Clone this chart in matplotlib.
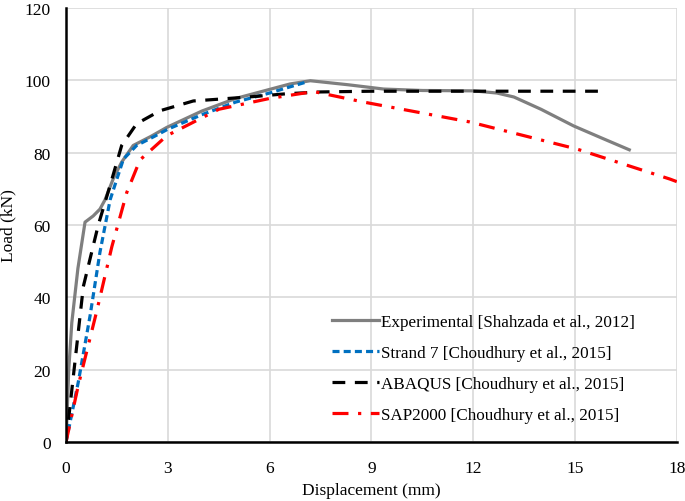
import matplotlib
matplotlib.use("Agg")
from matplotlib import pyplot as plt

plt.rcParams['font.family'] = ['Liberation Serif', 'DejaVu Serif']

# data
exp_x = [0, 0.08, 0.17, 0.35, 0.56, 0.8, 1.0, 1.15, 1.4, 1.64, 1.98, 2.5, 2.97, 4.0, 5.0, 6.0, 6.6, 7.2, 8.3, 9.36, 10.5, 12.0, 12.7, 13.2, 14.0, 14.96, 15.8, 16.6]
exp_y = [0, 20, 33, 48, 60.8, 62.5, 64.4, 67, 73, 77.4, 82, 84.5, 87, 91.5, 95, 97.5, 99, 99.9, 98.8, 97.6, 97.2, 97.1, 96.5, 95.4, 92, 87.4, 84, 80.8]

strand_x = [0, 0.36, 0.71, 1.0, 1.3, 1.69, 2.08, 2.6, 3.0, 4.0, 5.0, 6.0, 6.6, 7.14]
strand_y = [0, 16.5, 35, 52.5, 67, 78.2, 82, 84.5, 86.5, 90.5, 94, 96.5, 98.2, 99.7]

abaqus_x = [0, 0.07, 0.51, 0.95, 1.3, 1.64, 2.08, 2.77, 3.75, 4.5, 5.5, 6.5, 7.5, 9.0, 12.0, 15.9]
abaqus_y = [0, 5.9, 43, 60, 71, 82, 88, 91.6, 94.3, 94.8, 95.5, 96.3, 96.8, 97, 97, 97]

sap_x = [0, 0.36, 0.9, 1.35, 1.79, 2.18, 2.97, 4.5, 6.0, 7.3, 8.77, 11.9, 15.06, 17.8, 18]
sap_y = [0, 15.6, 36, 54, 69, 78, 84.7, 92, 95, 96.9, 94, 88.5, 81, 72.7, 72]

fig = plt.figure(figsize=(6.85, 5.02), dpi=100)
ax = fig.add_axes([0.0964, 0.1175, 0.8916, 0.8645])

ax.plot(exp_x, exp_y, color='#7f7f7f', lw=2.3, label='Experimental [Shahzada et al., 2012]')
ax.plot(strand_x, strand_y, color='#0070c0', lw=2.3, dashes=(2.2, 1.3), label='Strand 7 [Choudhury et al., 2015]')
ax.plot(abaqus_x, abaqus_y, color='black', lw=2.3, dashes=(4, 3), label='ABAQUS [Choudhury et al., 2015]')
ax.plot(sap_x, sap_y, color='#ff0000', lw=2.3, dashes=(5, 3, 1, 3), label='SAP2000 [Choudhury et al., 2015]')

ax.set_xlim(0, 18)
ax.set_ylim(0, 120)
ax.set_xticks(range(0, 19, 3))
ax.set_yticks(range(0, 121, 20))
ax.grid(True, color='#d9d9d9', lw=1.2)
ax.set_axisbelow(True)
for s in ['top', 'right']:
    ax.spines[s].set_visible(False)
for s in ['left', 'bottom']:
    ax.spines[s].set_linewidth(1.8)
ax.tick_params(labelsize=12.5, length=0)
ax.tick_params(axis='x', pad=13)
ax.tick_params(axis='y', pad=11)
ax.set_xlabel('Displacement (mm)', fontsize=12.5, labelpad=4)
ax.set_ylabel('Load (kN)', fontsize=12.5, labelpad=6)

ax.legend(loc='upper left', bbox_to_anchor=(0.411, 0.33), frameon=False, fontsize=12.3,
          handlelength=2.7, handletextpad=0.15, labelspacing=0.88, borderpad=0.4)

plt.savefig('out.png', dpi=100)
